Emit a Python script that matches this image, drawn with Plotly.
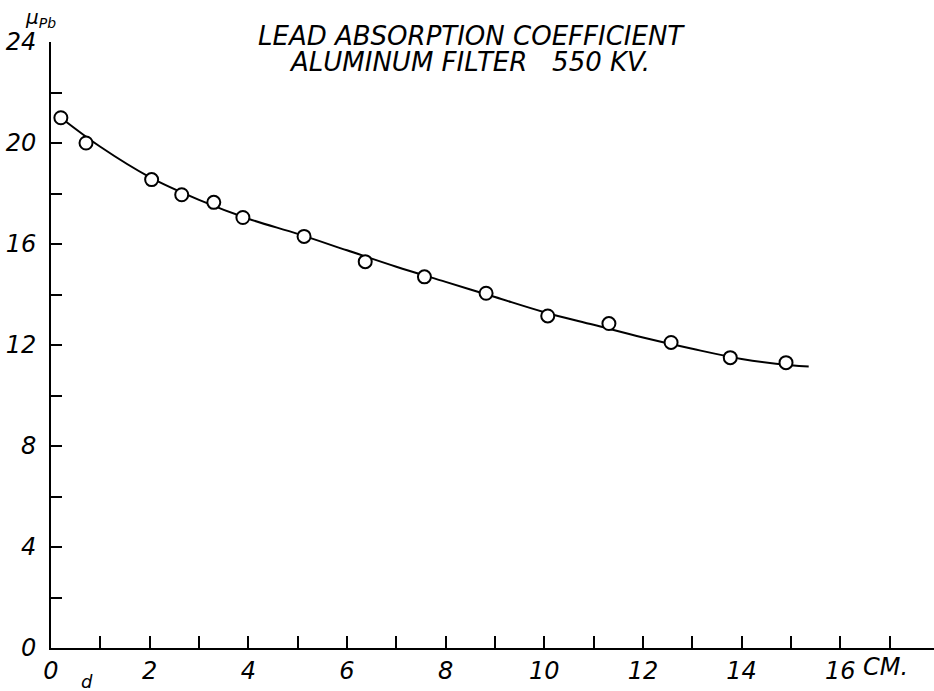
import plotly.graph_objects as go

# Measured points (distance d in cm, lead absorption coefficient)
d_points = [0.2, 0.71, 2.04, 2.65, 3.30, 3.89, 5.13, 6.37, 7.57, 8.82, 10.07, 11.31, 12.57, 13.77, 14.9]
mu_points = [21.0, 20.0, 18.55, 17.95, 17.65, 17.05, 16.3, 15.3, 14.7, 14.05, 13.15, 12.85, 12.1, 11.5, 11.3]

# Smooth fitted curve
d_curve = [0.2, 1, 2, 3, 4, 5, 6, 7, 8, 9, 10, 11, 12, 13, 14, 15, 15.36]
mu_curve = [21.0, 19.85, 18.65, 17.75, 17.0, 16.4, 15.75, 15.1, 14.5, 13.9, 13.3, 12.8, 12.3, 11.85, 11.45, 11.2, 11.15]

x_tickvals = [0, 2, 4, 6, 8, 10, 12, 14, 16]
x_ticktext = ["0", "2", "4", "6", "8", "10", "12", "14", "16"]
y_tickvals = [0, 4, 8, 12, 16, 20, 24]
y_ticktext = ["0", "4", "8", "12", "16", "20", "24"]

FONT = "DejaVu Sans"

fig = go.Figure()
fig.add_trace(go.Scatter(
    x=d_curve, y=mu_curve, mode="lines",
    line=dict(color="black", width=2, shape="spline", smoothing=1.0),
    hoverinfo="skip", showlegend=False,
))
fig.add_trace(go.Scatter(
    x=d_points, y=mu_points, mode="markers",
    marker=dict(symbol="circle", size=13, color="white",
                line=dict(color="black", width=2)),
    showlegend=False,
))

fig.update_layout(
    width=934, height=691,
    margin=dict(l=51, r=0, t=42, b=43),
    paper_bgcolor="white", plot_bgcolor="white",
    showlegend=False,
    xaxis=dict(
        range=[0, 17.9], showgrid=False, zeroline=False,
        showline=True, linecolor="black", linewidth=2,
        tickmode="array", tickvals=x_tickvals, ticktext=x_ticktext,
        ticks="inside", ticklen=12, tickwidth=2, tickcolor="black",
        minor=dict(dtick=1, tick0=0, ticks="inside", ticklen=12, tickwidth=2, tickcolor="black"),
        tickfont=dict(family=FONT, size=24, color="black", style="italic"),
        ticklabelstandoff=0,
    ),
    yaxis=dict(
        range=[0, 24], showgrid=False, zeroline=False,
        showline=True, linecolor="black", linewidth=2,
        tickmode="array", tickvals=y_tickvals, ticktext=y_ticktext,
        ticks="inside", ticklen=11, tickwidth=2, tickcolor="black",
        minor=dict(dtick=2, tick0=0, ticks="inside", ticklen=11, tickwidth=2, tickcolor="black"),
        tickfont=dict(family=FONT, size=24, color="black", style="italic"),
        ticklabelstandoff=8,
    ),
)

fig.add_annotation(text="LEAD ABSORPTION COEFFICIENT", xref="paper", yref="paper",
                   x=(471 - 51) / 883, y=1 + (42 - 36) / 606, showarrow=False,
                   xanchor="center", yanchor="middle",
                   font=dict(family=FONT, size=26, color="black", style="italic"))
fig.add_annotation(text="ALUMINUM FILTER   550 KV.", xref="paper", yref="paper",
                   x=(469 - 51) / 883, y=1 + (42 - 62) / 606, showarrow=False,
                   xanchor="center", yanchor="middle",
                   font=dict(family=FONT, size=26, color="black", style="italic"))
fig.add_annotation(text="μ<sub>Pb</sub>", xref="paper", yref="paper",
                   x=(40 - 51) / 883, y=1 + (42 - 18) / 606, showarrow=False,
                   xanchor="center", yanchor="middle",
                   font=dict(family=FONT, size=20, color="black", style="italic"))
fig.add_annotation(text="CM.", xref="x", yref="paper",
                   x=16.42, y=-(667 - 648) / 606, showarrow=False,
                   xanchor="left", yanchor="middle",
                   font=dict(family=FONT, size=24, color="black", style="italic"))
fig.add_annotation(text="d", xref="x", yref="paper",
                   x=0.72, y=-(682 - 648) / 606, showarrow=False,
                   xanchor="center", yanchor="middle",
                   font=dict(family=FONT, size=18, color="black", style="italic"))

fig.write_html("out.html", config={"displayModeBar": False},
               post_script="document.body.style.margin='0px';")
